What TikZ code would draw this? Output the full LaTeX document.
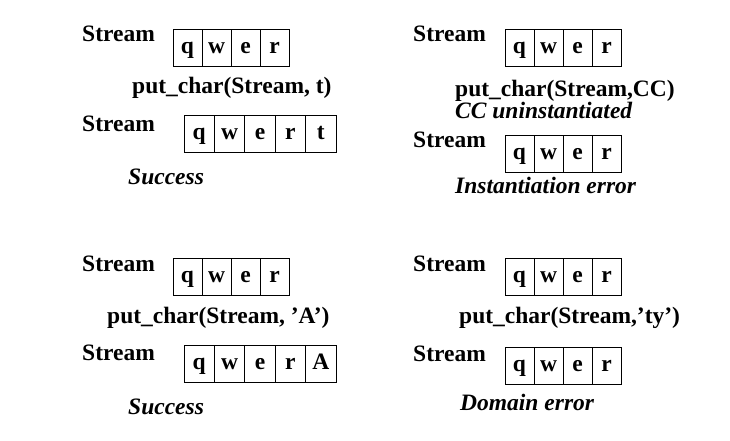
\documentclass[tikz,border=0pt]{standalone}
\usepackage{fontspec}
\setmainfont{Liberation Serif}
\begin{document}
\begin{tikzpicture}[x=1pt,y=-1pt]
\tikzset{
 lbl/.style={anchor=base west, inner sep=0pt, font=\fontsize{23.5}{28}\selectfont\bfseries},
 res/.style={anchor=base west, inner sep=0pt, font=\fontsize{23.5}{28}\selectfont\bfseries\itshape},
 cell/.style={draw, line width=0.8pt, minimum width=29pt, minimum height=37pt, inner sep=0pt, text height=16pt, text depth=5pt, font=\fontsize{23.5}{28}\selectfont\bfseries},
 wcell/.style={cell, minimum width=30.4pt},
}
\useasboundingbox (0,0) rectangle (730,440);
% top left
\node[lbl] (tlS1) at (82,41) {Stream};
\foreach \c [count=\i] in {q,w,e,r} \node[cell] (tla-\i) at ({187.5+29*(\i-1)},47.5) {\c};
\node[lbl] (tlcall) at (132,93) {put\_char(Stream, t)};
\node[lbl] (tlS2) at (82,131) {Stream};
\foreach \c [count=\i] in {q,w,e,r,t} \node[wcell] (tlb-\i) at ({199.2+30.4*(\i-1)},134) {\c};
\node[res] (tlres) at (128,184) {Success};
% top right
\node[lbl] (trS1) at (413,41) {Stream};
\foreach \c [count=\i] in {q,w,e,r} \node[cell] (tra-\i) at ({519.5+29*(\i-1)},47.5) {\c};
\node[lbl] (trcall) at (455,96) {put\_char(Stream,CC)};
\node[res] (trnote) at (455,118) {CC uninstantiated};
\node[lbl] (trS2) at (413,147) {Stream};
\foreach \c [count=\i] in {q,w,e,r} \node[cell] (trb-\i) at ({519.5+29*(\i-1)},153.5) {\c};
\node[res] (trres) at (455,193) {Instantiation error};
% bottom left
\node[lbl] (blS1) at (82,271) {Stream};
\foreach \c [count=\i] in {q,w,e,r} \node[cell] (bla-\i) at ({187.5+29*(\i-1)},277) {\c};
\node[lbl] (blcall) at (107,323) {put\_char(Stream, ’A’)};
\node[lbl] (blS2) at (82,360) {Stream};
\foreach \c [count=\i] in {q,w,e,r,A} \node[wcell] (blb-\i) at ({199.2+30.4*(\i-1)},364) {\c};
\node[res] (blres) at (128,414) {Success};
% bottom right
\node[lbl] (brS1) at (413,271) {Stream};
\foreach \c [count=\i] in {q,w,e,r} \node[cell] (bra-\i) at ({519.5+29*(\i-1)},277) {\c};
\node[lbl] (brcall) at (459,323) {put\_char(Stream,’ty’)};
\node[lbl] (brS2) at (413,361) {Stream};
\foreach \c [count=\i] in {q,w,e,r} \node[cell] (brb-\i) at ({519.5+29*(\i-1)},366) {\c};
\node[res] (brres) at (460,410) {Domain error};
\end{tikzpicture}
\end{document}
